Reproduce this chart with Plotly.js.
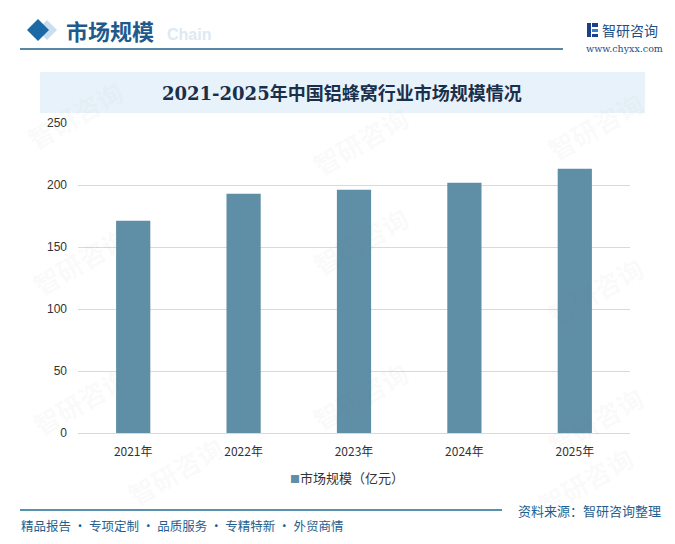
<!DOCTYPE html>
<html>
<head>
<meta charset="utf-8">
<script src="https://cdn.plot.ly/plotly-3.0.1.min.js"></script>
<style>html,body{margin:0;padding:0;background:#fff;}#chart{width:675px;height:544px;}</style>
</head>
<body>
<div id="chart"></div>
<script>
// Data
const years = ["2021年", "2022年", "2023年", "2024年", "2025年"];
const marketSize = [171.1, 192.9, 196.1, 201.8, 213.1];
const seriesName = "市场规模（亿元）";
const yTicks = [0, 50, 100, 150, 200, 250];

// layout geometry (plot area pixels)
const L = 78, R = 630, T = 123, B = 433;
const px = x => (x - L) / (R - L);
const py = y => (B - y) / (B - T);

const cjk = '"Noto Sans CJK SC", "Liberation Sans", sans-serif';
const serifTitle = '"DejaVu Serif", "Noto Sans CJK SC", serif';
const barColor = '#5f8fa6';

const shapes = [
  {type:'rect', xref:'paper', yref:'paper', x0:px(40), x1:px(645), y0:py(113), y1:py(72), fillcolor:'#e8f2fa', line:{width:0}, layer:'below'},
  {type:'path', xref:'paper', yref:'paper', path:`M ${px(47)} ${py(20)} L ${px(57)} ${py(30)} L ${px(47)} ${py(40)} L ${px(37)} ${py(30)} Z`, fillcolor:'#c9dff0', line:{width:0}},
  {type:'path', xref:'paper', yref:'paper', path:`M ${px(38)} ${py(19)} L ${px(49)} ${py(30)} L ${px(38)} ${py(41)} L ${px(27)} ${py(30)} Z`, fillcolor:'#1b6aa6', line:{width:0}},
  {type:'line', xref:'paper', yref:'paper', x0:px(20), x1:px(563), y0:py(49), y1:py(49), line:{color:'#1e5f84', width:1.5}},
  {type:'rect', xref:'paper', yref:'paper', x0:px(587), x1:px(591), y0:py(37), y1:py(23), fillcolor:'#1c3f8c', line:{width:0}},
  {type:'rect', xref:'paper', yref:'paper', x0:px(592), x1:px(598), y0:py(27), y1:py(23), fillcolor:'#1c3f8c', line:{width:0}},
  {type:'rect', xref:'paper', yref:'paper', x0:px(592), x1:px(598), y0:py(32), y1:py(29), fillcolor:'#2e7fd0', line:{width:0}},
  {type:'rect', xref:'paper', yref:'paper', x0:px(592), x1:px(598), y0:py(37), y1:py(34), fillcolor:'#1c3f8c', line:{width:0}},
  {type:'line', xref:'paper', yref:'paper', x0:px(20), x1:px(502), y0:py(510), y1:py(510), line:{color:'#1e6f8f', width:1.5}}
];

const wm = [[75,115],[360,140],[595,125],[80,260],[360,240],[595,290],[80,400],[360,395],[595,420],[175,470],[585,480]];
const annotations = wm.map(([x,y]) => ({xref:'paper', yref:'paper', x:px(x), y:py(y), xanchor:'center', yanchor:'middle', text:'<b>智研咨询</b>', textangle:-30, showarrow:false, font:{family:cjk, size:26, color:'rgba(120,120,120,0.05)'}}));

annotations.push(
  {xref:'paper', yref:'paper', x:px(165), y:py(35), xanchor:'left', yanchor:'middle', text:'<b>Chain</b>', showarrow:false, font:{family:'"Liberation Sans", sans-serif', size:16, color:'#dde9f3'}},
  {xref:'paper', yref:'paper', x:px(64), y:py(30), xanchor:'left', yanchor:'middle', text:'<b>市场规模</b>', showarrow:false, font:{family:cjk, size:22, color:'#1f5a8c'}},
  {xref:'paper', yref:'paper', x:px(600), y:py(30), xanchor:'left', yanchor:'middle', text:'智研咨询', showarrow:false, font:{family:cjk, size:14, color:'#1d4f8a'}},
  {xref:'paper', yref:'paper', x:px(624), y:py(48), xanchor:'center', yanchor:'middle', text:'www.chyxx.com', showarrow:false, font:{family:'"DejaVu Serif", serif', size:9.5, color:'#1d4f8a'}},
  {xref:'paper', yref:'paper', x:px(342), y:py(93), xanchor:'center', yanchor:'middle', text:'<b>2021-2025年中国铝蜂窝行业市场规模情况</b>', showarrow:false, font:{family:serifTitle, size:18, color:'#1a2f4a'}},
  {xref:'paper', yref:'paper', x:px(347), y:py(477), xanchor:'center', yanchor:'middle', text:`<span style="color:${barColor};font-size:10px">■</span>${seriesName}`, showarrow:false, font:{family:cjk, size:13, color:'#333'}},
  {xref:'paper', yref:'paper', x:px(663), y:py(510), xanchor:'right', yanchor:'middle', text:'资料来源：智研咨询整理', showarrow:false, font:{family:cjk, size:13, color:'#1f5f8f'}},
  {xref:'paper', yref:'paper', x:px(19), y:py(525), xanchor:'left', yanchor:'middle', text:'精品报告 · 专项定制 · 品质服务 · 专精特新 · 外贸商情', showarrow:false, font:{family:cjk, size:12.5, color:'#1f5f8f'}}
);

const trace = {
  type:'bar', x:years, y:marketSize, name:seriesName,
  marker:{color:barColor}, showlegend:false, hoverinfo:'x+y'
};

const layout = {
  width:675, height:544,
  margin:{l:L, r:675-R, t:T, b:544-B, pad:0},
  paper_bgcolor:'#ffffff', plot_bgcolor:'rgba(0,0,0,0)',
  bargap:0.69,
  showlegend:false,
  font:{family:cjk, size:12, color:'#333'},
  xaxis:{type:'category', showgrid:false, showline:true, linecolor:'#d9d9d9', linewidth:1, ticks:'', ticklabelstandoff:8, tickfont:{family:cjk, size:12, color:'#333'}, fixedrange:true},
  yaxis:{range:[0,250], tickvals:yTicks, ticktext:yTicks.map(String), showgrid:true, gridcolor:'#d9d9d9', gridwidth:1, zeroline:false, showline:false, ticks:'', ticklabelstandoff:10, tickfont:{family:'"Liberation Sans", Arial, sans-serif', size:12, color:'#333'}, fixedrange:true},
  shapes:shapes, annotations:annotations
};

Plotly.newPlot('chart', [trace], layout, {displayModeBar:false, staticPlot:true});
</script>
</body>
</html>
